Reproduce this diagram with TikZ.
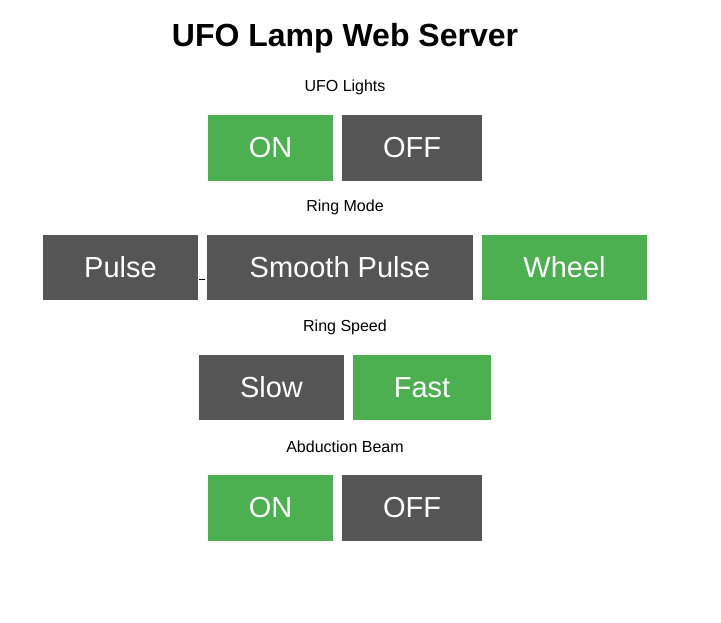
\documentclass[tikz,border=0pt]{standalone}
\usepackage{fontspec}
\setmainfont{Liberation Sans}
\definecolor{grn}{HTML}{4CAF50}
\definecolor{gry}{HTML}{555555}
\begin{document}
\begin{tikzpicture}[x=1pt,y=-1pt,
  btn/.style={font=\fontsize{29}{32}\selectfont, text=white, inner sep=0pt, anchor=center},
  lbl/.style={font=\fontsize{16}{18}\selectfont, anchor=center}]
\fill[white] (0,0) rectangle (721,623);
\useasboundingbox (0,0) rectangle (721,623);
\node[font=\bfseries\fontsize{32}{36}\selectfont] (title) at (345,38) {UFO Lamp Web Server};
\node[lbl] (l1) at (345,87) {UFO Lights};
\node[lbl] (l2) at (345,207) {Ring Mode};
\node[lbl] (l3) at (345,327) {Ring Speed};
\node[lbl] (l4) at (345,447) {Abduction Beam};
\newcommand\mybtn[6]{\fill[#5] (#1,#2) rectangle (#3,#4);
  \node[btn] at ({(#1+#3)/2},{(#2+#4)/2}) {#6};}
\mybtn{208}{115}{333}{181}{grn}{ON}
\mybtn{342}{115}{482}{181}{gry}{OFF}
\mybtn{43}{235}{198}{300}{gry}{Pulse}
\mybtn{207}{235}{473}{300}{gry}{Smooth Pulse}
\mybtn{482}{235}{647}{300}{grn}{Wheel}
\mybtn{199}{355}{344}{420}{gry}{Slow}
\mybtn{353}{355}{491}{420}{grn}{Fast}
\mybtn{208}{475}{333}{541}{grn}{ON}
\mybtn{342}{475}{482}{541}{gry}{OFF}
\draw[black, line width=0.8] (199,279) -- (205,279);
\end{tikzpicture}
\end{document}
